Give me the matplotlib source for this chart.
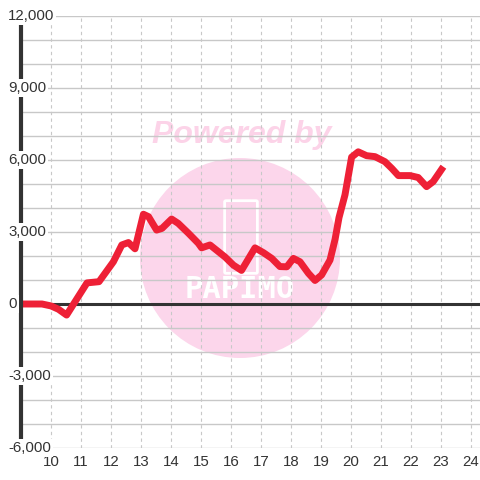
import matplotlib
matplotlib.use('Agg')
import matplotlib.pyplot as plt
import matplotlib.patches as patches
import numpy as np

# hour of day / value
hours = [9.0, 9.7, 10.0, 10.25, 10.52, 11.2, 11.6, 12.08, 12.36, 12.58, 12.8,
         13.08, 13.25, 13.52, 13.7, 14.02, 14.24, 14.58, 14.91, 15.02, 15.3,
         15.52, 15.8, 16.08, 16.35, 16.8, 17.08, 17.36, 17.63, 17.86, 18.08,
         18.3, 18.58, 18.8, 19.02, 19.3, 19.47, 19.6, 19.8, 20.02, 20.24,
         20.52, 20.8, 21.13, 21.36, 21.58, 21.97, 22.24, 22.52, 22.74, 23.08]
values = [0, 0, -80, -220, -460, 880, 930, 1760, 2460, 2560, 2300,
          3740, 3640, 3080, 3150, 3540, 3360, 2950, 2530, 2340, 2460,
          2240, 1960, 1620, 1400, 2340, 2140, 1900, 1560, 1550, 1900,
          1760, 1280, 980, 1210, 1830, 2700, 3600, 4550, 6120, 6340,
          6180, 6140, 5930, 5650, 5350, 5350, 5270, 4890, 5100, 5720]

xticks = list(range(10, 25))
yticks = [-6000, -3000, 0, 3000, 6000, 9000, 12000]
ytick_labels = ['-6,000', '-3,000', '0', '3,000', '6,000', '9,000', '12,000']

plt.rcParams['font.family'] = ['Liberation Sans', 'DejaVu Sans']

fig = plt.figure(figsize=(4.8, 4.8), dpi=100)
ax = fig.add_axes([21/480, 32/480, 459/480, 432/480])
ax.set_xlim(9, 24.3)
ax.set_ylim(-6000, 12000)

for s in ['top', 'right', 'bottom']:
    ax.spines[s].set_visible(False)
ax.spines['left'].set_color('#333333')
ax.spines['left'].set_linewidth(3)
ax.spines['left'].set_zorder(4)

ax.set_axisbelow(True)
ax.set_yticks(np.arange(-6000, 12001, 1000))
ax.set_yticklabels([])
ax.set_xticks(xticks)
ax.set_xticklabels([str(t) for t in xticks], fontsize=10.8, color='#333333')
ax.tick_params(axis='both', length=0)
ax.tick_params(axis='x', pad=5)
ax.grid(axis='y', color='#c8c8c8', linewidth=1, linestyle='-')
ax.grid(axis='x', color='#c8c8c8', linewidth=0.8, linestyle=(0, (3, 3)))

# watermark
circ = patches.Ellipse(((240-21)/459, (448-258)/432), 200/459, 200/432,
                       transform=ax.transAxes, facecolor='#fcd6eb',
                       edgecolor='none', zorder=0.4)
ax.add_patch(circ)
ax.text((242-21)/459, (448-135)/432, 'Powered by', transform=ax.transAxes,
        ha='center', va='center', fontsize=23, fontweight='bold',
        fontstyle='italic', color='#fcd3e8', zorder=0.45)
ax.add_patch(patches.FancyBboxPatch(((226-21)/459, (448-272)/432), 30/459, 70/432,
                                    boxstyle='round,pad=0.003', transform=ax.transAxes,
                                    facecolor='none', edgecolor='white', linewidth=2,
                                    zorder=0.45))
ax.text((240-21)/459, (448-290)/432, 'PAPIMO', transform=ax.transAxes,
        ha='center', va='center', fontsize=22, fontweight='bold',
        color='white', family='DejaVu Sans Mono', zorder=0.45)

ax.axhline(0, color='#333333', linewidth=2.2, zorder=2)

ax.plot(hours, values, color='#ee2036', linewidth=5, solid_joinstyle='round',
        solid_capstyle='butt', zorder=3)

for v, lab in zip(yticks, ytick_labels):
    ax.text(-13/459, v, lab, transform=ax.get_yaxis_transform(), ha='left',
            va='center', fontsize=10.8, color='#333333', clip_on=False, zorder=5,
            bbox=dict(facecolor='white', edgecolor='none', pad=1.5))

fig.savefig('out.png', dpi=100)
